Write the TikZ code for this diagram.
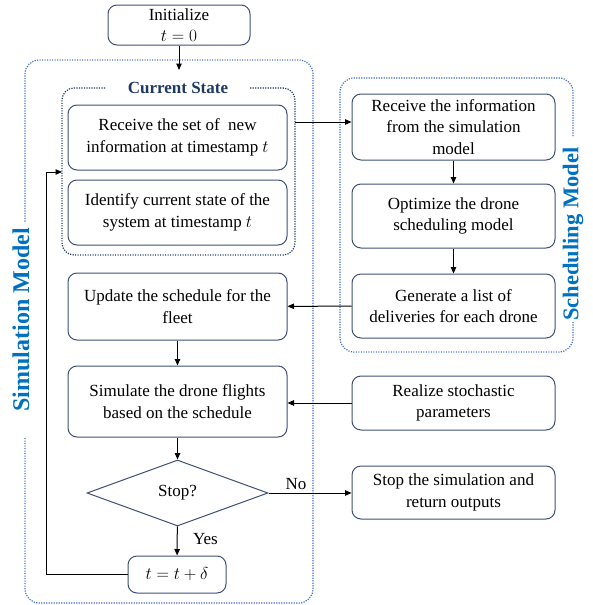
\documentclass[tikz,border=0pt]{standalone}
\usepackage{fontspec}
\setmainfont{Liberation Serif}
\usetikzlibrary{arrows.meta, positioning, shapes.geometric}
\definecolor{boxline}{RGB}{62,80,118}
\definecolor{dotblue}{RGB}{68,114,196}
\definecolor{modelblue}{RGB}{0,112,192}
\definecolor{navy}{RGB}{31,56,100}
\tikzset{
  procbox/.style={draw=boxline, line width=1pt, rounded corners=9pt, align=center,
    font=\fontsize{17}{21.5}\selectfont, inner sep=2pt, minimum width=219pt, minimum height=65pt},
  sidebox/.style={procbox, minimum width=203pt},
  flow/.style={-{Triangle[length=6.5pt,width=5.5pt]}, line width=1pt},
  dotframe/.style={line width=1.2pt, dash pattern=on 1.2pt off 1.3pt, rounded corners=14pt},
  modeltitle/.style={font=\fontsize{24}{26}\selectfont\bfseries, text=modelblue, rotate=90},
}
\begin{document}
\begin{tikzpicture}[x=1pt, y=-1pt]
  \useasboundingbox (0,0) rectangle (592,605);
  % frames
  \draw[dotframe, dotblue] (25,438) -- (25,603) -- (313,603) -- (313,60) -- (25,60) -- (25,222);
  \draw[dotframe, navy, rounded corners=12pt] (105,88) -- (62,88) -- (62,255) -- (295,255) -- (295,88) -- (250,88);
  \draw[dotframe, dotblue] (573,136) -- (573,78) -- (340,78) -- (340,352) -- (573,352) -- (573,322);
  \node[modeltitle] (simlabel) at (21,320) {Simulation Model};
  \node[modeltitle, font=\fontsize{22.5}{24}\selectfont\bfseries] (schedlabel) at (573,234) {Scheduling Model};
  \node[font=\fontsize{17}{18}\selectfont\bfseries, text=navy] (cslabel) at (178,88) {Current State};
  % simulation side
  \node[procbox, minimum width=142pt, minimum height=40pt] (init) at (179,25) {Initialize\\$t=0$};
  \node[procbox] (newinfo) at (177.5,137.5) {Receive the set of~ new\\information at timestamp $t$};
  \node[procbox] (identify) at (177.5,212.5) {Identify current state of the\\system at timestamp $t$};
  \node[procbox, minimum height=67pt] (update) at (177.5,306.5) {Update the schedule for the\\fleet};
  \node[procbox, minimum height=71pt] (simulate) at (177.5,401.5) {Simulate the drone flights\\based on the schedule};
  \node[diamond, draw=boxline, line width=1pt, inner sep=0pt, minimum width=181pt, minimum height=66pt,
    font=\fontsize{17}{21}\selectfont] (stop) at (177.5,493) {Stop?};
  \node[procbox, minimum width=98pt, minimum height=37pt] (tstep) at (177,574.5) {$t=t+\delta$};
  % scheduling side
  \node[sidebox, minimum height=66pt] (recvinfo) at (453.5,127) {Receive the information\\from the simulation\\model};
  \node[sidebox, minimum height=64pt] (optimize) at (453.5,216) {Optimize the drone\\scheduling model};
  \node[sidebox, minimum height=64pt] (generate) at (453.5,306) {Generate a list of\\deliveries for each drone};
  \node[sidebox, minimum height=54pt] (realize) at (453.5,403) {Realize stochastic\\parameters};
  \node[sidebox, minimum height=53pt] (stopsim) at (453.5,492.5) {Stop the simulation and\\return outputs};
  % connectors
  \coordinate (initend) at (179,70);
  \coordinate (csright) at (295,122);
  \coordinate (csleft) at (62,172);
  \draw[flow] (init) -- (initend);
  \draw[flow] (csright) -- (recvinfo.west |- csright);
  \draw[flow] (recvinfo) -- (optimize);
  \draw[flow] (optimize) -- (generate);
  \draw[flow] (generate) -- (update);
  \draw[flow] (update) -- (simulate);
  \draw[flow] (realize) -- (simulate.east |- realize);
  \draw[flow] (simulate) -- (stop);
  \draw[flow] (stop) -- node[above, pos=0.33, font=\fontsize{17}{18}\selectfont] (nolabel) {No} (stopsim.west |- stop);
  \draw[flow] (stop) -- node[right, pos=0.45, xshift=12pt, font=\fontsize{17}{18}\selectfont] (yeslabel) {Yes} (tstep);
  \draw[flow] (tstep.west) -- (46,574.5) -- (46,172) -- (csleft);
\end{tikzpicture}
\end{document}
